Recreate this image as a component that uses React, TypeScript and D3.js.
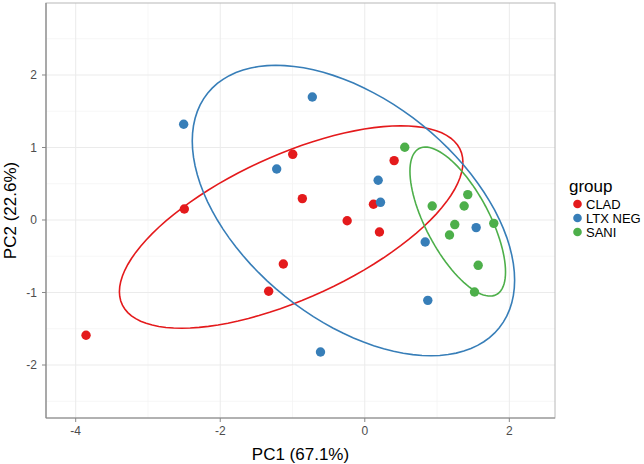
import React, { useEffect, useRef } from 'react';
import { select, scaleLinear, line, range } from 'd3';

const groups = ['CLAD', 'LTX NEG', 'SANI'];
const colors = ['#E41A1C', '#377EB8', '#4DAF4A'];

const cladPoints = [
  [-0.997, 0.906], [-0.864, 0.295], [-2.497, 0.152], [0.406, 0.819], [0.12, 0.217],
  [-0.244, -0.01], [0.203, -0.166], [-1.127, -0.607], [-1.33, -0.983], [-3.857, -1.59],
];
const ltxNegPoints = [
  [-2.506, 1.32], [-0.726, 1.697], [-1.219, 0.703], [0.185, 0.548], [0.217, 0.244],
  [1.541, -0.105], [0.836, -0.303], [0.872, -1.108], [-0.613, -1.821],
];
const saniPoints = [
  [0.553, 1.003], [0.933, 0.193], [1.425, 0.35], [1.375, 0.193], [1.245, -0.063],
  [1.785, -0.046], [1.172, -0.207], [1.569, -0.625], [1.518, -0.993],
];

const xTicks = [-4, -2, 0, 2];
const yTicks = [-2, -1, 0, 1, 2];
const xMinor = [-3, -1, 1];
const yMinor = [-2.5, -1.5, -0.5, 0.5, 1.5, 2.5];

const ellipseProb = 0.8;

// normal-probability ellipse: mu + r * circle %*% chol(sigma)
function ellipse(points: number[][]) {
  const n = points.length;
  const mx = points.reduce((s, p) => s + p[0], 0) / n;
  const my = points.reduce((s, p) => s + p[1], 0) / n;
  let sxx = 0, syy = 0, sxy = 0;
  points.forEach(p => {
    sxx += (p[0] - mx) ** 2;
    syy += (p[1] - my) ** 2;
    sxy += (p[0] - mx) * (p[1] - my);
  });
  sxx /= n - 1; syy /= n - 1; sxy /= n - 1;
  const a = Math.sqrt(sxx);
  const b = sxy / a;
  const c = Math.sqrt(syy - b * b);
  const r = Math.sqrt(-2 * Math.log(1 - ellipseProb));
  return range(0, 101).map(i => {
    const t = (i / 100) * 2 * Math.PI;
    return [mx + r * Math.cos(t) * a, my + r * (Math.cos(t) * b + Math.sin(t) * c)];
  });
}

export default function App() {
  const svgRef = useRef<SVGSVGElement>(null);

  useEffect(() => {
    const svg = select(svgRef.current);
    svg.selectAll('*').remove();
    const font = '"Liberation Sans", Arial, sans-serif';

    const left = 46, right = 555, top = 3, bottom = 418;
    const x = scaleLinear().domain([-4.411, 2.632]).range([left, right]);
    const y = scaleLinear().domain([-2.731, 2.993]).range([bottom, top]);

    const grid = svg.append('g');
    xMinor.forEach(v => grid.append('line').attr('x1', x(v)).attr('x2', x(v)).attr('y1', top).attr('y2', bottom)
      .attr('stroke', '#f4f4f4').attr('stroke-width', 0.8));
    yMinor.forEach(v => grid.append('line').attr('y1', y(v)).attr('y2', y(v)).attr('x1', left).attr('x2', right)
      .attr('stroke', '#f4f4f4').attr('stroke-width', 0.8));
    xTicks.forEach(v => grid.append('line').attr('x1', x(v)).attr('x2', x(v)).attr('y1', top).attr('y2', bottom)
      .attr('stroke', '#ebebeb').attr('stroke-width', 1));
    yTicks.forEach(v => grid.append('line').attr('y1', y(v)).attr('y2', y(v)).attr('x1', left).attr('x2', right)
      .attr('stroke', '#ebebeb').attr('stroke-width', 1));

    // panel border
    svg.append('rect').attr('x', left).attr('y', top).attr('width', right - left).attr('height', bottom - top)
      .attr('fill', 'none').attr('stroke', '#b8b8b8').attr('stroke-width', 1);
    svg.append('line').attr('x1', left).attr('x2', left).attr('y1', top).attr('y2', bottom)
      .attr('stroke', '#888').attr('stroke-width', 1.2);
    svg.append('line').attr('x1', left).attr('x2', right).attr('y1', bottom).attr('y2', bottom)
      .attr('stroke', '#888').attr('stroke-width', 1.2);

    // ticks
    xTicks.forEach(v => {
      svg.append('line').attr('x1', x(v)).attr('x2', x(v)).attr('y1', bottom).attr('y2', bottom + 4)
        .attr('stroke', '#888');
      svg.append('text').attr('x', x(v)).attr('y', bottom + 17).attr('text-anchor', 'middle')
        .attr('font-family', font).attr('font-size', 12).attr('fill', '#4d4d4d').text(v);
    });
    yTicks.forEach(v => {
      svg.append('line').attr('x1', left - 4).attr('x2', left).attr('y1', y(v)).attr('y2', y(v))
        .attr('stroke', '#888');
      svg.append('text').attr('x', left - 9).attr('y', y(v) + 4.3).attr('text-anchor', 'end')
        .attr('font-family', font).attr('font-size', 12).attr('fill', '#4d4d4d').text(v);
    });

    const series = [cladPoints, ltxNegPoints, saniPoints];
    const path = line<number[]>().x(d => x(d[0])).y(d => y(d[1]));

    series.forEach((pts, i) => {
      svg.append('path').attr('d', path(ellipse(pts))).attr('fill', 'none')
        .attr('stroke', colors[i]).attr('stroke-width', 1.6);
    });
    series.forEach((pts, i) => {
      svg.append('g').selectAll('circle').data(pts).join('circle')
        .attr('cx', d => x(d[0])).attr('cy', d => y(d[1])).attr('r', 4.7)
        .attr('fill', colors[i]);
    });

    // axis titles
    svg.append('text').attr('x', (left + right) / 2).attr('y', 460).attr('text-anchor', 'middle')
      .attr('font-family', font).attr('font-size', 17).attr('fill', '#000').text('PC1 (67.1%)');
    svg.append('text').attr('transform', `translate(16,${(top + bottom) / 2}) rotate(-90)`)
      .attr('text-anchor', 'middle').attr('font-family', font).attr('font-size', 17)
      .attr('fill', '#000').text('PC2 (22.6%)');

    // legend
    const lg = svg.append('g');
    lg.append('text').attr('x', 569).attr('y', 192).attr('font-family', font).attr('font-size', 17)
      .attr('fill', '#000').text('group');
    groups.forEach((g, i) => {
      lg.append('circle').attr('cx', 577.5).attr('cy', 204 + i * 14).attr('r', 4.3).attr('fill', colors[i]);
      lg.append('text').attr('x', 586).attr('y', 208.5 + i * 14).attr('font-family', font)
        .attr('font-size', 13).attr('fill', '#000').text(g);
    });
  }, []);

  return (
    <svg ref={svgRef} width={644} height={464}
      style={{ position: 'absolute', left: 0, top: 0, background: '#fff' }} />
  );
}
